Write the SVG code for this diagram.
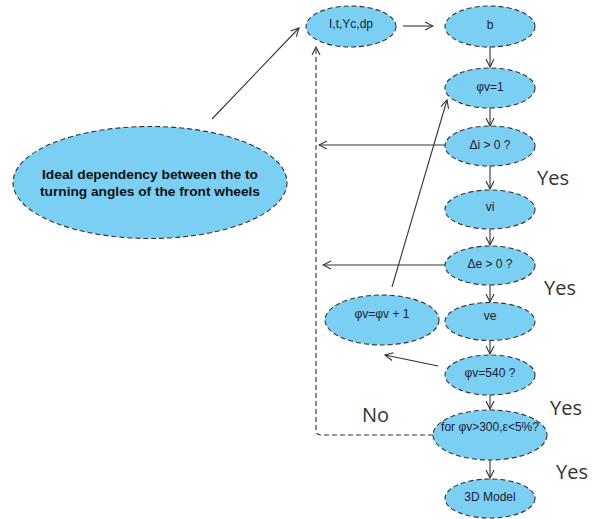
<svg xmlns="http://www.w3.org/2000/svg" width="594" height="519" viewBox="0 0 594 519">
<defs>
<style>
.n{fill:#7BCFF3;stroke:#333;stroke-width:1.1;stroke-dasharray:5,3}
.t{font-family:"Liberation Sans",Arial,sans-serif;font-size:12px;fill:#1b1b3a;text-anchor:middle}
.b{font-family:"Liberation Sans",Arial,sans-serif;font-size:12px;font-weight:bold;fill:#111;text-anchor:middle}
.c{fill:none;stroke:#333;stroke-width:1.1}
.d{fill:none;stroke:#333;stroke-width:1.1;stroke-dasharray:5,3}
.y{font-family:"Open Sans","Noto Sans",sans-serif;font-size:20px;fill:#333}
</style>
<marker id="a" viewBox="0 0 10 10" refX="9" refY="5" markerWidth="10" markerHeight="10" markerUnits="userSpaceOnUse" orient="auto">
<path d="M1,1 L9,5 L1,9" fill="none" stroke="#333" stroke-width="1.1"/>
</marker>
</defs>
<rect width="594" height="519" fill="#fff"/>
<g id="connectors">
<line class="c" x1="212" y1="119" x2="299" y2="28" marker-end="url(#a)"/>
<line class="c" x1="403" y1="26" x2="433" y2="26" marker-end="url(#a)"/>
<line class="c" x1="490" y1="47" x2="490" y2="67" marker-end="url(#a)"/>
<line class="c" x1="490" y1="108" x2="490" y2="126" marker-end="url(#a)"/>
<line class="c" x1="490" y1="166" x2="490" y2="189" marker-end="url(#a)"/>
<line class="c" x1="490" y1="229" x2="490" y2="245" marker-end="url(#a)"/>
<line class="c" x1="490" y1="285" x2="490" y2="302" marker-end="url(#a)"/>
<line class="c" x1="490" y1="341" x2="490" y2="354" marker-end="url(#a)"/>
<line class="c" x1="490" y1="395" x2="490" y2="409" marker-end="url(#a)"/>
<line class="c" x1="490" y1="460" x2="490" y2="478" marker-end="url(#a)"/>
<line class="c" x1="445" y1="145" x2="319" y2="145" marker-end="url(#a)"/>
<line class="c" x1="445" y1="265" x2="323" y2="265" marker-end="url(#a)"/>
<line class="c" x1="438" y1="366" x2="385" y2="355" marker-end="url(#a)"/>
<line class="c" x1="392" y1="287" x2="447" y2="100" marker-end="url(#a)"/>
<path class="d" d="M433,435 L321,435 Q316,435 316,430 L316,47" marker-end="url(#a)"/>
</g>
<g id="ideal"><ellipse class="n" cx="150" cy="182.5" rx="137" ry="56"/><text class="b" x="150" y="179" textLength="216" lengthAdjust="spacingAndGlyphs">Ideal dependency between the to</text><text class="b" x="150" y="196" textLength="220" lengthAdjust="spacingAndGlyphs">turning angles of the front wheels</text></g>
<g id="inputs"><ellipse class="n" cx="351" cy="26.5" rx="45" ry="20.5"/><text class="t" x="351" y="28" font-size="10.5">I,t,Yc,dp</text></g>
<g id="b"><ellipse class="n" cx="490" cy="26.5" rx="45" ry="20.5"/><text class="t" x="490" y="29">b</text></g>
<g id="phi1"><ellipse class="n" cx="490" cy="88" rx="45" ry="20"/><text class="t" x="490" y="91">φv=1</text></g>
<g id="di"><ellipse class="n" cx="490" cy="146" rx="45" ry="20"/><text class="t" x="490" y="149">Δi &gt; 0 ?</text></g>
<g id="vi"><ellipse class="n" cx="490" cy="209.5" rx="45" ry="19.5"/><text class="t" x="490" y="211">vi</text></g>
<g id="de"><ellipse class="n" cx="490" cy="265.5" rx="45" ry="19.5"/><text class="t" x="490" y="268">Δe &gt; 0 ?</text></g>
<g id="ve"><ellipse class="n" cx="490" cy="321.5" rx="45" ry="19"/><text class="t" x="490" y="320">ve</text></g>
<g id="inc"><ellipse class="n" cx="382" cy="320" rx="57" ry="25"/><text class="t" x="382" y="318">φv=φv + 1</text></g>
<g id="phi540"><ellipse class="n" cx="490" cy="375" rx="45" ry="20"/><text class="t" x="490" y="377">φv=540 ?</text></g>
<g id="check"><ellipse class="n" cx="490" cy="435" rx="57" ry="25"/><text class="t" x="490" y="431">for φv&gt;300,ε&lt;5%?</text></g>
<g id="model"><ellipse class="n" cx="490" cy="498.5" rx="45" ry="19.5"/><text class="t" x="490" y="501">3D Model</text></g>
<g id="labels">
<text class="y" x="537" y="185">Yes</text>
<text class="y" x="544" y="295">Yes</text>
<text class="y" x="550" y="415">Yes</text>
<text class="y" x="556" y="479">Yes</text>
<text class="y" x="362" y="422">No</text>
</g>
</svg>
